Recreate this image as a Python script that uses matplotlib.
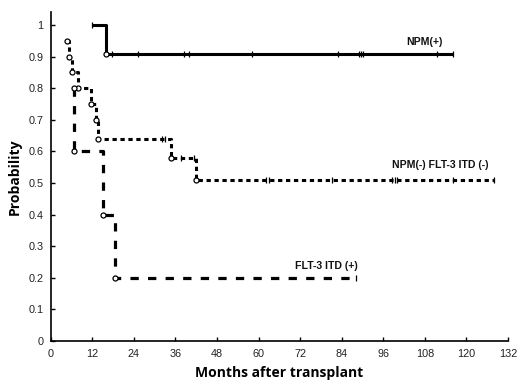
import matplotlib
matplotlib.use("Agg")
import matplotlib.pyplot as plt
import numpy as np

# ---- data ----
# NPM(+)
npm_t = [11.8, 16.1]
npm_s = [1.0, 0.909]
npm_end = 116
npm_event_t = [16.1]
npm_event_s = [0.909]
npm_cens_t = [11.8, 17.8, 25.3, 38.4, 40.0, 58.0, 83.0, 89.0, 89.5, 90.0, 111.4, 116.0]
npm_cens_s = [1.0, 0.909, 0.909, 0.909, 0.909, 0.909, 0.909, 0.909, 0.909, 0.909, 0.909, 0.909]

# NPM(-) FLT-3 ITD (-)
neg_t = [4.6, 5.3, 6.2, 8.0, 11.5, 13.0, 13.7, 34.8, 41.8]
neg_s = [0.95, 0.90, 0.85, 0.80, 0.75, 0.70, 0.64, 0.58, 0.51]
neg_end = 128
neg_cens_t = [32.2, 32.9, 37.5, 41.5, 62.2, 62.9, 81.2, 98.5, 99.4, 99.9, 116.2, 128.0]
neg_cens_s = [0.64, 0.64, 0.58, 0.58, 0.51, 0.51, 0.51, 0.51, 0.51, 0.51, 0.51, 0.51]

# FLT-3 ITD (+)
flt_t = [6.6, 6.8, 15.2, 18.7]
flt_s = [0.8, 0.6, 0.4, 0.2]
flt_end = 88.1
flt_cens_t = [88.1]
flt_cens_s = [0.2]

labels = ["NPM(+)", "NPM(-) FLT-3 ITD (-)", "FLT-3 ITD (+)"]
label_pos = [(108, 0.947), (112.3, 0.557), (79.5, 0.237)]

xticks = list(range(0, 133, 12))
yticks = [0, 0.1, 0.2, 0.3, 0.4, 0.5, 0.6, 0.7, 0.8, 0.9, 1.0]
ytick_labels = ["0", "0.1", "0.2", "0.3", "0.4", "0.5", "0.6", "0.7", "0.8", "0.9", "1"]

fig = plt.figure(figsize=(5.2, 3.9), dpi=100)
ax = fig.add_axes([0.0975, 0.126, 0.8795, 0.844])

def km(ax, t, s, end, **kw):
    xs = list(t) + [end]
    ys = list(s) + [s[-1]]
    ax.step(xs, ys, where="post", color="black", solid_capstyle="butt",
            dash_capstyle="butt", **kw)

km(ax, npm_t, npm_s, npm_end, lw=2.2, linestyle="-")
km(ax, neg_t, neg_s, neg_end, lw=2.2, linestyle=(0, (1.4, 1.2)))
km(ax, flt_t, flt_s, flt_end, lw=2.3, linestyle=(0, (2.6, 2.9)))

# event circles
for et, es in [(npm_event_t, npm_event_s), (neg_t, neg_s), (flt_t, flt_s)]:
    ax.plot(et, es, linestyle="none", marker="o", ms=3.6, mfc="white",
            mec="black", mew=0.9, zorder=5)

# censor marks
for ct, cs in [(npm_cens_t, npm_cens_s), (neg_cens_t, neg_cens_s), (flt_cens_t, flt_cens_s)]:
    ax.plot(ct, cs, linestyle="none", marker="|", ms=5, mew=0.9,
            color="black", zorder=5)

for lab, (lx, ly) in zip(labels, label_pos):
    ax.text(lx, ly, lab, ha="center", va="center", fontsize=7.6,
            fontweight="bold", family="Liberation Sans", color="#111")

ax.set_xlim(0, 132)
ax.set_ylim(0, 1.042)
ax.set_xticks(xticks)
ax.set_yticks(yticks)
ax.set_yticklabels(ytick_labels)
ax.spines["top"].set_visible(False)
ax.spines["right"].set_visible(False)
for sp in ["left", "bottom"]:
    ax.spines[sp].set_linewidth(1.2)
ax.tick_params(direction="in", length=3, width=1, labelsize=7.8,
               labelcolor="#222")
ax.tick_params(axis="x", pad=6)
ax.tick_params(axis="y", pad=5)
for lbl in ax.get_xticklabels() + ax.get_yticklabels():
    lbl.set_family("Liberation Sans")

ax.set_xlabel("Months after transplant", fontsize=10, fontweight="bold",
              family="Open Sans", labelpad=5)
ax.set_ylabel("Probability", fontsize=10, fontweight="bold",
              family="Open Sans", labelpad=5)

fig.savefig("out.png", dpi=100, facecolor="white")
